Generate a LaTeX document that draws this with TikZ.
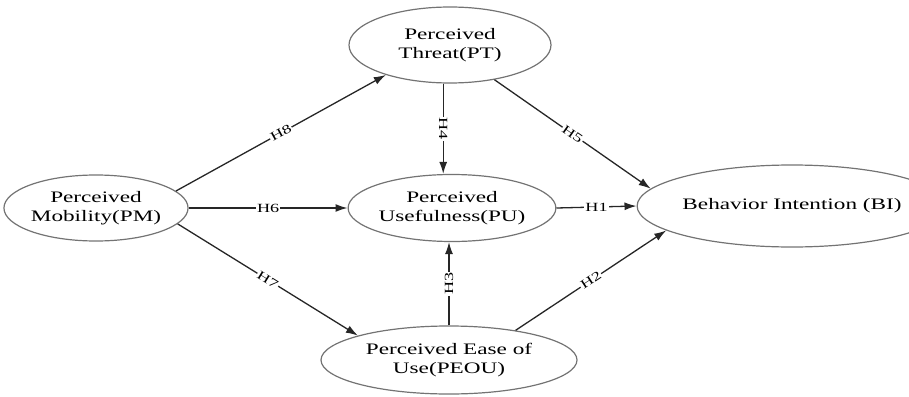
\documentclass[tikz,border=0pt]{standalone}
\usepackage{fontspec}
\setmainfont[FakeStretch=1.45]{Liberation Serif}
\usetikzlibrary{shapes.geometric,arrows.meta}
\begin{document}
\begin{tikzpicture}[x=1pt,y=-1pt,
  construct/.style={ellipse,draw=black!55,line width=1.2pt,inner sep=0pt,
    align=center,text=black,font=\fontsize{16}{18.5}\selectfont},
  link/.style={draw=black!85,line width=1.3pt,-{Latex[length=12pt,width=8pt]}},
  hyp/.style={fill=white,inner sep=1pt,text=black,font=\fontsize{12.5}{14}\selectfont}]
\useasboundingbox (0,0) rectangle (909,396);

% constructs
\node[construct,minimum width=172pt,minimum height=66pt] (PM) at (96,208) {Perceived\\Mobility(PM)};
\node[construct,minimum width=202pt,minimum height=76pt] (PT) at (450,45) {Perceived\\Threat(PT)};
\node[construct,minimum width=198pt,minimum height=67pt] (PU) at (452,208) {Perceived\\Usefulness(PU)};
\node[construct,minimum width=238pt,minimum height=82pt] (BI) at (792,206) {Behavior Intention (BI)};
\node[construct,minimum width=256pt,minimum height=68pt] (PEOU) at (449,360) {Perceived Ease of\\Use(PEOU)};

% hypotheses
\draw[link] (PM.12) -- node[hyp,sloped]{H8} (PT.205);
\draw[link] (PM.east) -- node[hyp]{H6} (PU.west);
\draw[link] (PM.-11) -- node[hyp,sloped]{H7} (PEOU.165);
\draw[link] (PT.260) -- node[hyp,rotate=-90]{H4} (PT.260 |- PU.north);
\draw[link] (PT.322) -- node[hyp,sloped]{H5} (BI.173);
\draw[link] (PU.east) -- node[hyp]{H1} (BI.west);
\draw[link] (PEOU.north) -- node[hyp,rotate=90]{H3} (PEOU.north |- PU.south);
\draw[link] (PEOU.24) -- node[hyp,sloped]{H2} (BI.191);
\end{tikzpicture}
\end{document}
